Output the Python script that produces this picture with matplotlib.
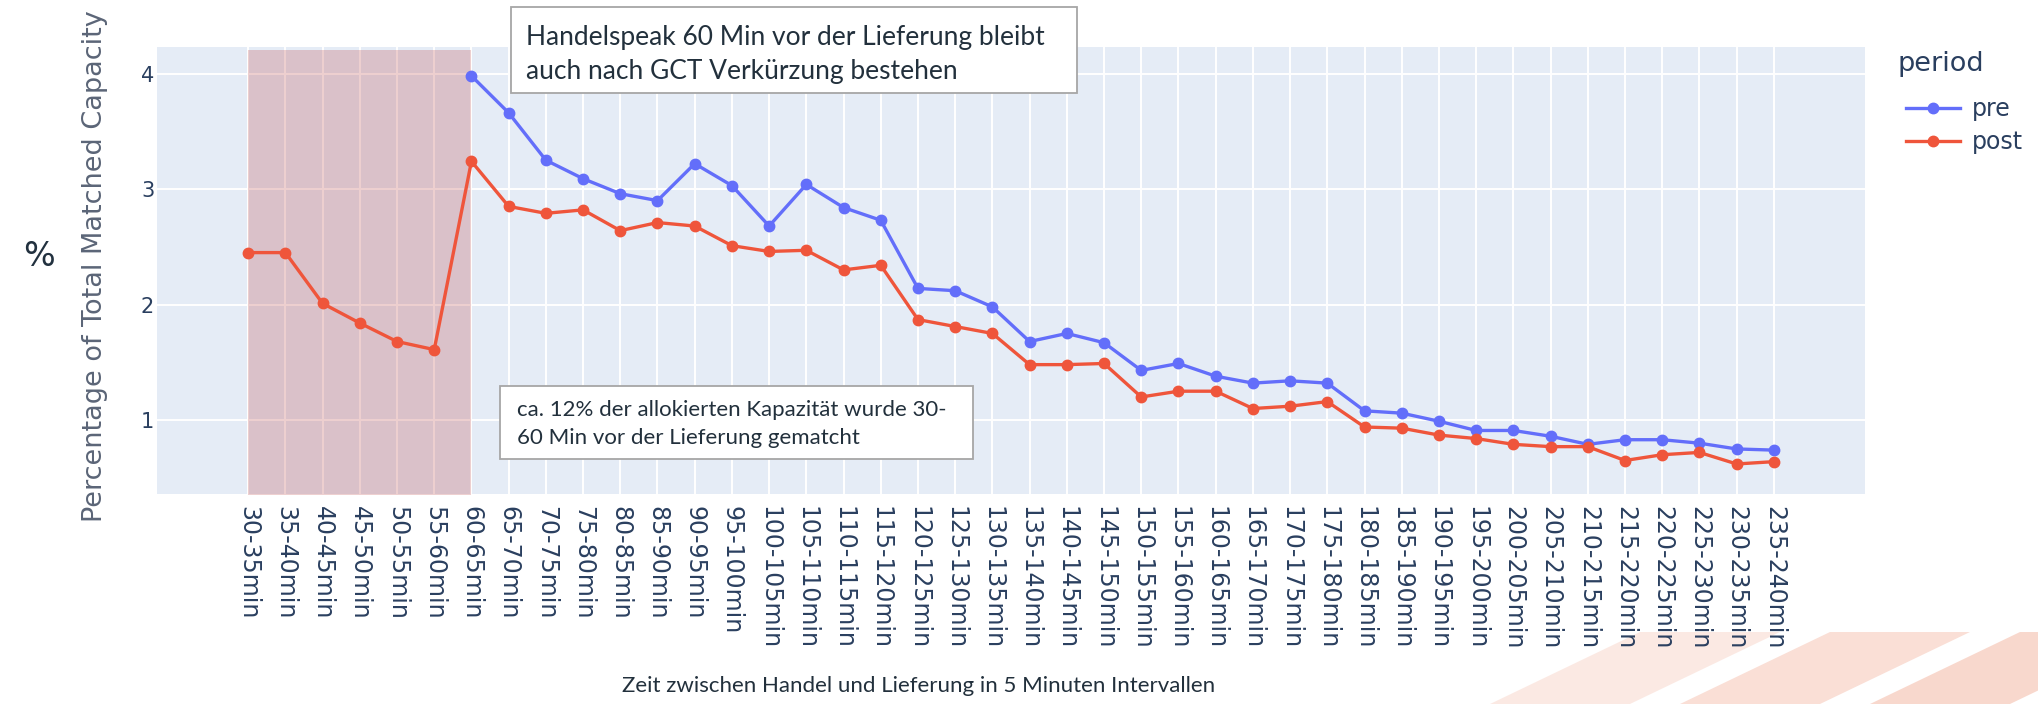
import matplotlib.pyplot as plt
import numpy as np
from matplotlib.patches import Rectangle, Polygon

plt.rcParams["font.family"] = ["DejaVu Sans"]

# Bildgroesse in Pixel
W, H = 2038, 704

categories = ["30-35min", "35-40min", "40-45min", "45-50min", "50-55min", "55-60min",
              "60-65min", "65-70min", "70-75min", "75-80min", "80-85min", "85-90min",
              "90-95min", "95-100min", "100-105min", "105-110min", "110-115min",
              "115-120min", "120-125min", "125-130min", "130-135min", "135-140min",
              "140-145min", "145-150min", "150-155min", "155-160min", "160-165min",
              "165-170min", "170-175min", "175-180min", "180-185min", "185-190min",
              "190-195min", "195-200min", "200-205min", "205-210min", "210-215min",
              "215-220min", "220-225min", "225-230min", "230-235min", "235-240min"]

pre = [np.nan, np.nan, np.nan, np.nan, np.nan, np.nan,
       3.98, 3.66, 3.25, 3.09, 2.96, 2.90, 3.22, 3.03,
       2.68, 3.04, 2.84, 2.73, 2.14, 2.12, 1.98, 1.68, 1.75, 1.67, 1.43, 1.49, 1.38, 1.32,
       1.34, 1.32, 1.08, 1.06, 0.99, 0.91, 0.91, 0.86, 0.79, 0.83, 0.83, 0.80, 0.75, 0.74]

post = [2.45, 2.45, 2.01, 1.84, 1.68, 1.61,
        3.24, 2.85, 2.79, 2.82, 2.64, 2.71, 2.68, 2.51,
        2.46, 2.47, 2.30, 2.34, 1.87, 1.81, 1.75, 1.48, 1.48, 1.49, 1.20, 1.25, 1.25, 1.10,
        1.12, 1.16, 0.94, 0.93, 0.87, 0.84, 0.79, 0.77, 0.77, 0.65, 0.70, 0.72, 0.62, 0.64]

yticks = [1, 2, 3, 4]
shade_start, shade_end, shade_top = "30-35min", "60-65min", 4.2

text_peak = "Handelspeak 60 Min vor der Lieferung bleibt\nauch nach GCT Verkürzung bestehen"
text_share = "ca. 12% der allokierten Kapazität wurde 30-\n60 Min vor der Lieferung gematcht"
xtitle = "Zeit zwischen Handel und Lieferung in 5 Minuten Intervallen"
ytitle = "Percentage of Total Matched Capacity"

font_color = "#2a3f5f"
note_color = "#22303c"


def fx(px):
    return px / W


def fy(py):
    return 1 - py / H


fig = plt.figure(figsize=(W / 100, H / 100), dpi=100)
ax = fig.add_axes([fx(157), fy(494), fx(1865 - 157), (494 - 47) / H])
ax.set_facecolor("#E5ECF6")
for s in ax.spines.values():
    s.set_visible(False)
ax.grid(True, color="white", lw=1.4)
ax.set_axisbelow(True)

x = np.arange(len(categories))
i0, i1 = categories.index(shade_start), categories.index(shade_end)
ax.fill_between([i0, i1], 0, shade_top, color="firebrick", alpha=0.21, lw=0, zorder=1)

ax.plot(x, pre, color="#636EFA", lw=2.4, marker="o", ms=7.5, label="pre", zorder=3)
ax.plot(x, post, color="#EF553B", lw=2.4, marker="o", ms=7.5, label="post", zorder=3)

ax.set_xlim(-2.45, len(categories) - 1 + 2.45)
ax.set_ylim(0.36, 4.23)
ax.set_yticks(yticks)
ax.set_yticklabels([str(t) for t in yticks], fontsize=15, color=font_color)
ax.set_xticks(x)
ax.set_xticklabels(categories, rotation=-90, fontsize=17, color=font_color)
ax.tick_params(axis="x", length=0, pad=9)
ax.tick_params(axis="y", length=0, pad=2)

# Legende, Titel separat gesetzt
fig.text(fx(1898), fy(64), "period", ha="left", va="center", fontsize=19.5, color=font_color)
leg = ax.legend(loc="upper left", bbox_to_anchor=(fx(1906), fy(97)), bbox_transform=fig.transFigure,
                frameon=False, fontsize=17, handlelength=2.3, handletextpad=0.5,
                labelspacing=0.4, borderpad=0, borderaxespad=0)
for t in leg.get_texts():
    t.set_color(font_color)

# Achsentitel
fig.text(fx(95), fy(266), ytitle, rotation=90, ha="center", va="center", fontsize=19.5, color="#5b6577")
fig.text(fx(39), fy(256), "%", ha="center", va="center", fontsize=24, color="#22313f")
fig.text(fx(919), fy(686), xtitle, ha="center", va="center", fontsize=16,
         family=["Liberation Sans Narrow", "Lato", "DejaVu Sans"], color=note_color)

# Textboxen
fig.add_artist(Rectangle((fx(511), fy(93)), fx(1077 - 511), (93 - 7) / H, transform=fig.transFigure,
                         facecolor="white", edgecolor="#a6a6a6", lw=1.3, zorder=5))
fig.text(fx(526), fy(55), text_peak, ha="left", va="center", fontsize=19, family="Lato",
         linespacing=1.45, color=note_color, zorder=6)
fig.add_artist(Rectangle((fx(500), fy(459)), fx(973 - 500), (459 - 386) / H, transform=fig.transFigure,
                         facecolor="white", edgecolor="#a6a6a6", lw=1.3, zorder=5))
fig.text(fx(517), fy(424), text_share, ha="left", va="center", fontsize=16, family="Lato",
         linespacing=1.45, color=note_color, zorder=6)

# Streifen unten rechts
for x0, a in [(1490, 0.3), (1680, 0.45), (1870, 0.55)]:
    pts = [(x0, 704), (x0 + 140, 704), (x0 + 290, 632), (x0 + 150, 632)]
    fig.add_artist(Polygon([(fx(p), fy(q)) for p, q in pts], closed=True, transform=fig.transFigure,
                           facecolor="#f4b8a4", edgecolor="none", alpha=a, zorder=0))

fig.savefig("out.png", dpi=100)
